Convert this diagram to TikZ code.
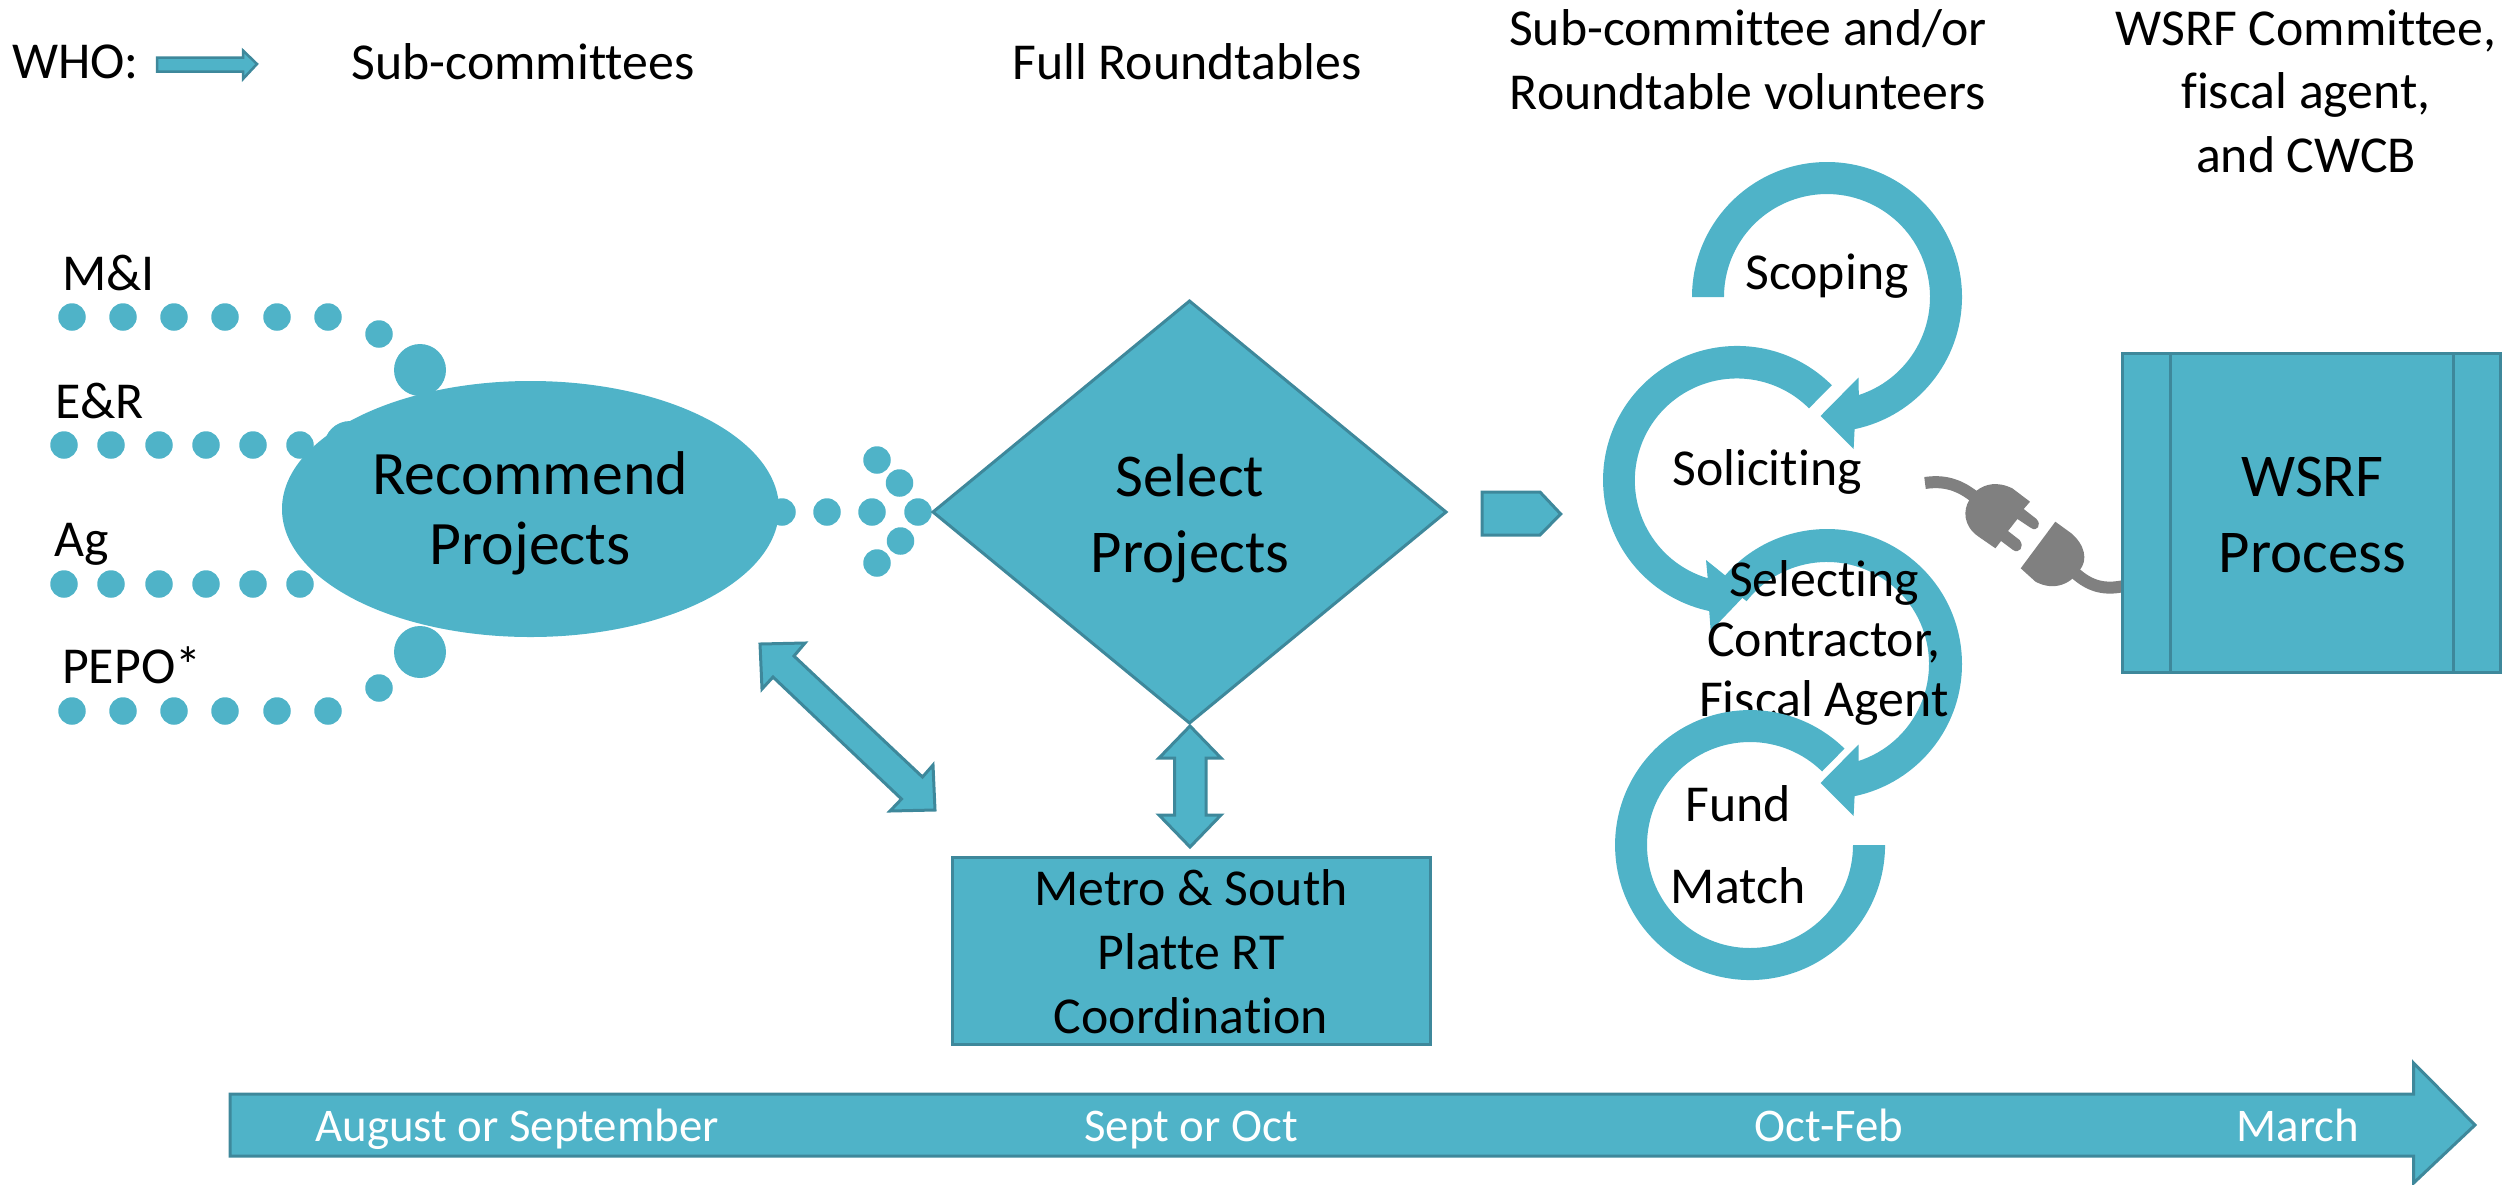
\documentclass[tikz,border=0pt]{standalone}
\usepackage{fontspec}
\setmainfont{Carlito}[Ligatures={NoCommon}]
\usetikzlibrary{shapes.geometric}
\definecolor{tealfill}{RGB}{79,179,200}
\definecolor{tealedge}{RGB}{62,136,155}
\definecolor{pluggray}{RGB}{128,128,128}
\newcommand{\fs}[2]{\fontsize{#1}{#2}\selectfont}
\tikzset{
  solid shape/.style={fill=tealfill,draw=tealedge,line width=3bp,line join=miter},
  ring/.style={fill=tealfill,draw=none},
  dotsmall/.style={circle,fill=tealfill,draw=none,minimum size=27.5bp,inner sep=0pt},
  dotbig/.style={circle,fill=tealfill,draw=none,minimum size=52bp,inner sep=0pt},
  txt/.style={anchor=base,inner sep=0pt,align=center,text=black,font=\fs{52}{64}},
  bigtxt/.style={anchor=base,inner sep=0pt,align=center,text=black,font=\fs{61}{76}},
  datetxt/.style={anchor=base,inner sep=0pt,text=white,font=\fs{47}{54}},
  plug/.style={fill=pluggray,draw=none},
  cable/.style={draw=pluggray,line width=12bp,line cap=butt}
}
\begin{document}
\begin{tikzpicture}[x=1bp,y=-1bp]
\useasboundingbox (0,0) rectangle (2511,1184);

% header
\node[txt,anchor=base west] (who) at (12,78) {WHO:};
\draw[solid shape,line width=2.5bp] (157,57.5) -- (243,57.5) -- (243,50.5) -- (257,64) -- (243,79) -- (243,71.5) -- (157,71.5) -- cycle;
\node[txt] (subc) at (523,79) {Sub-committees};
\node[txt] (fullrt) at (1187,79) {Full Roundtables};
\node[txt,font=\fs{52}{64}] (volunteers) at (1748,109) {Sub-committee and/or\\Roundtable volunteers};
\node[txt,font=\fs{52}{63.5}] (wsrfcom) at (2306,172) {WSRF Committee,\\fiscal agent,\\and CWCB};

% subcommittee labels
\node[txt,anchor=base west] (mi) at (62,290) {M\&I};
\node[txt,anchor=base west] (er) at (55,418) {E\&R};
\node[txt,anchor=base west] (ag) at (54,556) {Ag};
\node[txt,anchor=base west] (pepo) at (62,683) {PEPO*};

% recommend ellipse
\node[ellipse,fill=tealfill,draw=none,minimum width=497bp,minimum height=256bp,inner sep=0pt] (recommend) at (530.5,509) {};
\node[bigtxt,font=\fs{62}{70}] (recommendtxt) at (530,564) {Recommend\\Projects};

% dots on the left
\foreach \px in {72,123,174,225,277,328} {
  \node[dotsmall] at (\px,317) {};
  \node[dotsmall] at (\px,711) {};
}
\foreach \px in {64,111,159,206,253,300} {
  \node[dotsmall] at (\px,445) {};
  \node[dotsmall] at (\px,584) {};
}
\node[dotsmall] at (379,334) {};
\node[dotsmall] at (379,688) {};
\node[dotbig] at (420,370) {};
\node[dotbig] at (420,652) {};
\node[dotbig] at (350,447) {};

% dots on the right of the ellipse
\foreach \px/\py in {782/512,827/512,872/512,918/512,877/460,899.5/483,900.5/541,877/563} {
  \node[dotsmall] at (\px,\py) {};
}

% select diamond
\draw[solid shape] (933,512) -- (1189.5,301) -- (1446,512) -- (1189.5,723) -- cycle;
\node[bigtxt] (selecttxt) at (1190,572) {Select\\Projects};

% double arrows
\draw[solid shape] (760,644) -- (805,643) -- (794,656) -- (922.5,777) -- (933,765) -- (935,810) -- (890,811) -- (901.5,799) -- (773,677) -- (762,689) -- cycle;
\draw[solid shape] (1190,726) -- (1221,758) -- (1206,758) -- (1206,815) -- (1221,815) -- (1190,847) -- (1159,815) -- (1174.5,815) -- (1174.5,758) -- (1159,758) -- cycle;

% metro box
\node[solid shape,rectangle,minimum width=478bp,minimum height=187bp,inner sep=0pt] (metro) at (1191,950.5) {};
\node[txt,font=\fs{52}{64}] (metrotxt) at (1191,1033) {Metro \& South\\Platte RT\\Coordination};

% pentagon
\draw[solid shape] (1482,492) -- (1540,492) -- (1560.7,514) -- (1540,535) -- (1482,535) -- cycle;

% scoping ring arrow
\fill[ring] (1692,297) arc[start angle=-180,end angle=78.2,radius=135] -- (1853.6,449) -- (1820.5,416) -- (1858.5,377.5) -- (1858.8,395) arc[start angle=72,end angle=-180,radius=103] -- cycle;
\node[txt] (scoping) at (1827,289) {Scoping};

% soliciting ring arrow
\fill[ring] (1831.8,385.2) arc[start angle=-45,end angle=-258,radius=134] -- (1710.7,631) -- (1747,593) -- (1706,560) -- (1707.7,578.2) arc[start angle=-253.4,end angle=-45,radius=102] -- cycle;
\node[txt] (soliciting) at (1767,485) {Soliciting};

% selecting ring arrow
\fill[ring] (1720.6,580.9) arc[start angle=-142,end angle=78.2,radius=135] -- (1853.6,816) -- (1820.5,783) -- (1858.5,744.5) -- (1858.5,761) arc[start angle=72,end angle=-142,radius=102] -- cycle;
\node[txt,font=\fs{52}{60}] (selecting) at (1824,716) {Selecting\\Contractor,\\Fiscal Agent};

% fund match ring arrow
\fill[ring] (1844.5,748.6) arc[start angle=-45.6,end angle=-360,radius=135] -- (1853,845) arc[start angle=-360,end angle=-45.6,radius=103] -- cycle;
\node[txt,font=\fs{52}{82}] (fundmatch) at (1738,903) {Fund\\Match};

% plug
\draw[cable] (1925,483) .. controls (1945,480) and (1960,485) .. (1976,498);
\fill[plug] (1976.5,490.7) .. controls (1985,484) and (1997,481) .. (2012.3,488.3) -- (2030,501.7) -- (2023.7,509) -- (2036.5,519) .. controls (2042,525) and (2037,532) .. (2031,528) -- (2017.4,519) -- (2008,531) -- (2019.6,540) .. controls (2025,547) and (2019,554) .. (2013,550) -- (2001,541) -- (1995.4,548.3) -- (1978.6,536.7) .. controls (1963,526) and (1963,510) .. (1969.3,500) -- cycle;
\draw[cable] (2074,572) .. controls (2090,587) and (2105,590) .. (2124,586);
\fill[plug] (2055.3,521.7) -- (2071.3,533.3) .. controls (2085,545) and (2088,560) .. (2079.8,570) .. controls (2072,583) and (2055,592) .. (2035.5,581.7) -- (2020.7,568.3) -- cycle;

% WSRF box
\node[solid shape,rectangle,minimum width=378bp,minimum height=319bp,inner sep=0pt] (wsrf) at (2311,512.5) {};
\draw[tealedge,line width=3bp] (2170.4,353) -- (2170.4,672);
\draw[tealedge,line width=3bp] (2453,353) -- (2453,672);
\node[bigtxt] (wsrftxt) at (2312.5,572) {WSRF\\Process};

% timeline
\draw[solid shape] (230,1094) -- (2413.6,1094) -- (2413.6,1063) -- (2475,1125) -- (2413.6,1183) -- (2413.6,1156) -- (230,1156) -- cycle;
\node[datetxt] (aug) at (517,1141.7) {August or September};
\node[datetxt] (sept) at (1191,1141.7) {Sept or Oct};
\node[datetxt] (oct) at (1829,1141.7) {Oct-Feb};
\node[datetxt] (march) at (2298,1141.7) {March};
\end{tikzpicture}
\end{document}
